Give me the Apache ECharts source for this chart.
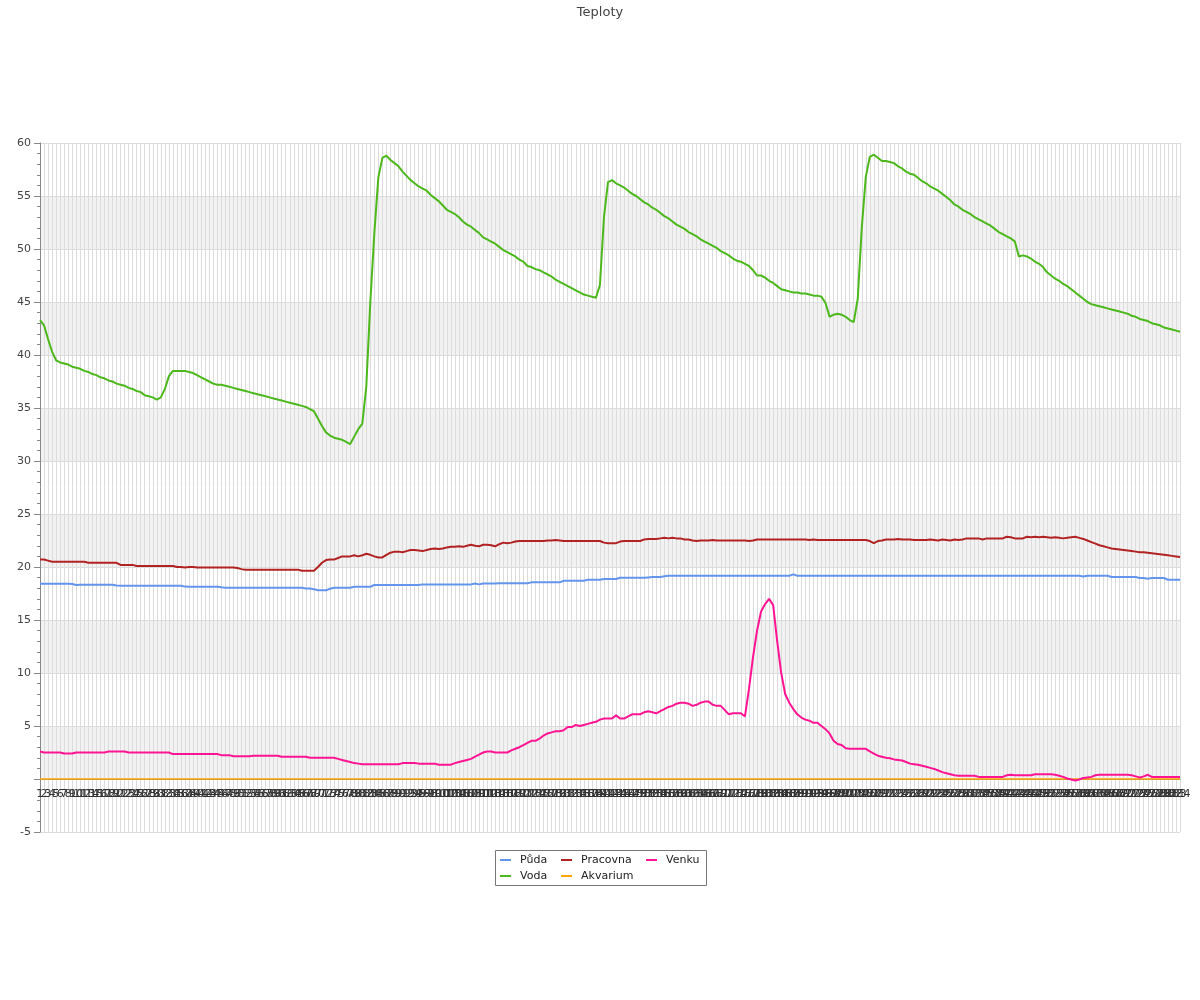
<!DOCTYPE html>
<html>
<head>
<meta charset="utf-8">
<script src="https://cdn.jsdelivr.net/npm/echarts@6/dist/echarts.min.js"></script>
<style>html,body{margin:0;padding:0;background:#fff}#chart{width:1200px;height:1000px}</style>
</head>
<body>
<div id="chart"></div>
<script>
// ---- DATA ----
const seriesNames = ['Půda', 'Voda', 'Pracovna', 'Akvarium', 'Venku'];

const puda = [
18.42,18.42,18.42,18.42,18.42,18.42,18.42,18.42,18.4,18.3,
18.33,18.33,18.33,18.33,18.33,18.33,18.33,18.33,18.33,18.25,
18.24,18.24,18.24,18.24,18.24,18.24,18.24,18.24,18.24,18.24,
18.24,18.24,18.24,18.24,18.24,18.24,18.15,18.14,18.14,18.14,
18.14,18.14,18.14,18.14,18.14,18.08,18.05,18.05,18.05,18.05,
18.05,18.05,18.05,18.05,18.05,18.05,18.05,18.05,18.05,18.05,
18.05,18.05,18.05,18.05,18.05,18.05,17.97,17.97,17.9,17.8,
17.8,17.8,17.95,18.05,18.05,18.05,18.05,18.05,18.14,18.14,
18.14,18.14,18.14,18.3,18.3,18.3,18.3,18.3,18.3,18.3,
18.3,18.3,18.3,18.3,18.3,18.36,18.36,18.36,18.36,18.36,
18.36,18.36,18.36,18.36,18.36,18.36,18.36,18.36,18.45,18.36,
18.45,18.45,18.45,18.45,18.46,18.46,18.46,18.46,18.46,18.46,
18.46,18.46,18.55,18.55,18.55,18.55,18.55,18.55,18.55,18.55,
18.7,18.7,18.7,18.7,18.7,18.7,18.8,18.8,18.8,18.8,
18.87,18.87,18.87,18.87,18.99,18.99,18.99,18.99,18.99,18.99,
18.99,19.02,19.05,19.05,19.05,19.12,19.18,19.18,19.18,19.18,
19.18,19.18,19.18,19.18,19.18,19.18,19.18,19.18,19.18,19.18,
19.18,19.18,19.18,19.18,19.18,19.18,19.18,19.18,19.18,19.18,
19.18,19.18,19.18,19.18,19.18,19.18,19.18,19.3,19.18,19.18,
19.18,19.18,19.18,19.18,19.18,19.18,19.18,19.18,19.18,19.18,
19.18,19.18,19.18,19.18,19.18,19.18,19.18,19.18,19.18,19.18,
19.18,19.18,19.18,19.18,19.18,19.18,19.18,19.18,19.18,19.18,
19.18,19.18,19.18,19.18,19.18,19.18,19.18,19.18,19.18,19.18,
19.18,19.18,19.18,19.18,19.18,19.18,19.18,19.18,19.18,19.18,
19.18,19.18,19.18,19.18,19.18,19.18,19.18,19.18,19.18,19.18,
19.18,19.18,19.18,19.18,19.18,19.18,19.18,19.18,19.18,19.1,
19.18,19.18,19.18,19.18,19.18,19.18,19.06,19.06,19.06,19.06,
19.06,19.06,19.06,18.96,18.96,18.9,18.96,18.96,18.96,18.96,
18.8,18.8,18.8,18.8
];

const voda = [
43.3,42.8,41.5,40.3,39.5,39.3,39.2,39.1,38.9,38.8,
38.7,38.5,38.4,38.2,38.1,37.9,37.8,37.6,37.5,37.3,
37.2,37.1,36.9,36.8,36.6,36.5,36.2,36.1,36.0,35.8,
36.0,36.8,38.0,38.5,38.5,38.5,38.5,38.4,38.3,38.1,
37.9,37.7,37.5,37.3,37.2,37.2,37.1,37.0,36.9,36.8,
36.7,36.6,36.5,36.4,36.3,36.2,36.1,36.0,35.9,35.8,
35.7,35.6,35.5,35.4,35.3,35.2,35.1,34.9,34.7,34.0,
33.3,32.7,32.4,32.2,32.1,32.0,31.8,31.6,32.3,33.0,
33.5,37.0,45.0,51.5,56.8,58.6,58.8,58.4,58.1,57.8,
57.3,56.9,56.5,56.2,55.9,55.7,55.5,55.1,54.8,54.5,
54.1,53.7,53.5,53.3,53.0,52.6,52.3,52.1,51.8,51.5,
51.1,50.9,50.7,50.5,50.2,49.9,49.7,49.5,49.3,49.0,
48.8,48.4,48.3,48.1,48.0,47.8,47.6,47.4,47.1,46.9,
46.7,46.5,46.3,46.1,45.9,45.7,45.6,45.5,45.4,46.6,
53.0,56.3,56.5,56.2,56.0,55.8,55.5,55.2,55.0,54.7,
54.4,54.2,53.9,53.7,53.4,53.1,52.9,52.6,52.3,52.1,
51.9,51.6,51.4,51.2,50.9,50.7,50.5,50.3,50.1,49.8,
49.6,49.4,49.1,48.9,48.8,48.6,48.4,48.0,47.5,47.5,
47.3,47.0,46.8,46.5,46.2,46.1,46.0,45.9,45.9,45.8,
45.8,45.7,45.6,45.6,45.5,44.9,43.6,43.8,43.9,43.8,
43.6,43.3,43.1,45.3,52.0,56.8,58.7,58.9,58.6,58.3,
58.3,58.2,58.1,57.8,57.6,57.3,57.1,57.0,56.7,56.4,
56.2,55.9,55.7,55.5,55.2,54.9,54.6,54.2,54.0,53.7,
53.5,53.3,53.0,52.8,52.6,52.4,52.2,51.9,51.6,51.4,
51.2,51.0,50.7,49.3,49.4,49.3,49.1,48.8,48.6,48.3,
47.8,47.5,47.2,47.0,46.7,46.5,46.2,45.9,45.6,45.3,
45.0,44.8,44.7,44.6,44.5,44.4,44.3,44.2,44.1,44.0,
43.9,43.7,43.6,43.4,43.3,43.2,43.0,42.9,42.8,42.6,
42.5,42.4,42.3,42.2
];

const pracovna = [
20.7,20.7,20.6,20.5,20.5,20.5,20.5,20.5,20.5,20.5,
20.5,20.5,20.4,20.4,20.4,20.4,20.4,20.4,20.4,20.4,
20.2,20.2,20.2,20.2,20.1,20.1,20.1,20.1,20.1,20.1,
20.1,20.1,20.1,20.1,20.0,20.0,19.95,20.0,20.0,19.95,
19.95,19.95,19.95,19.95,19.95,19.95,19.95,19.95,19.95,19.9,
19.8,19.75,19.75,19.75,19.75,19.75,19.75,19.75,19.75,19.75,
19.75,19.75,19.75,19.75,19.75,19.65,19.65,19.65,19.65,20.0,
20.4,20.65,20.7,20.7,20.85,21.0,21.0,21.0,21.1,21.0,
21.1,21.25,21.15,21.0,20.9,20.9,21.15,21.35,21.45,21.45,
21.4,21.5,21.6,21.6,21.55,21.5,21.6,21.7,21.75,21.7,
21.75,21.85,21.9,21.9,21.95,21.9,22.0,22.1,22.0,21.95,
22.1,22.1,22.05,21.95,22.15,22.3,22.25,22.3,22.4,22.45,
22.45,22.45,22.45,22.45,22.45,22.45,22.5,22.5,22.55,22.5,
22.45,22.45,22.45,22.45,22.45,22.45,22.45,22.45,22.45,22.45,
22.3,22.25,22.25,22.25,22.4,22.45,22.45,22.45,22.45,22.45,
22.6,22.65,22.65,22.65,22.7,22.75,22.7,22.75,22.7,22.7,
22.6,22.6,22.5,22.45,22.5,22.5,22.5,22.55,22.5,22.5,
22.5,22.5,22.5,22.5,22.5,22.5,22.45,22.5,22.6,22.6,
22.6,22.6,22.6,22.6,22.6,22.6,22.6,22.6,22.6,22.6,
22.6,22.55,22.6,22.55,22.55,22.55,22.55,22.55,22.55,22.55,
22.55,22.55,22.55,22.55,22.55,22.55,22.45,22.25,22.45,22.5,
22.6,22.6,22.6,22.65,22.6,22.6,22.6,22.55,22.55,22.55,
22.55,22.6,22.55,22.5,22.6,22.55,22.5,22.6,22.55,22.6,
22.7,22.7,22.7,22.7,22.6,22.7,22.7,22.7,22.7,22.7,
22.85,22.8,22.7,22.7,22.7,22.85,22.8,22.85,22.8,22.85,
22.8,22.75,22.8,22.75,22.7,22.75,22.8,22.85,22.75,22.65,
22.5,22.35,22.2,22.05,21.95,21.85,21.75,21.7,21.65,21.6,
21.55,21.5,21.45,21.4,21.4,21.35,21.3,21.25,21.2,21.15,
21.1,21.05,21.0,20.95
];

const akvarium = [
0,0,0,0,0,0,0,0,0,0,0,0,0,0,0,0,0,0,0,0,
0,0,0,0,0,0,0,0,0,0,0,0,0,0,0,0,0,0,0,0,
0,0,0,0,0,0,0,0,0,0,0,0,0,0,0,0,0,0,0,0,
0,0,0,0,0,0,0,0,0,0,0,0,0,0,0,0,0,0,0,0,
0,0,0,0,0,0,0,0,0,0,0,0,0,0,0,0,0,0,0,0,
0,0,0,0,0,0,0,0,0,0,0,0,0,0,0,0,0,0,0,0,
0,0,0,0,0,0,0,0,0,0,0,0,0,0,0,0,0,0,0,0,
0,0,0,0,0,0,0,0,0,0,0,0,0,0,0,0,0,0,0,0,
0,0,0,0,0,0,0,0,0,0,0,0,0,0,0,0,0,0,0,0,
0,0,0,0,0,0,0,0,0,0,0,0,0,0,0,0,0,0,0,0,
0,0,0,0,0,0,0,0,0,0,0,0,0,0,0,0,0,0,0,0,
0,0,0,0,0,0,0,0,0,0,0,0,0,0,0,0,0,0,0,0,
0,0,0,0,0,0,0,0,0,0,0,0,0,0,0,0,0,0,0,0,
0,0,0,0,0,0,0,0,0,0,0,0,0,0,0,0,0,0,0,0,
0,0,0,0
];

const venku = [
2.6,2.5,2.5,2.5,2.5,2.5,2.4,2.4,2.4,2.5,
2.5,2.5,2.5,2.5,2.5,2.5,2.5,2.6,2.6,2.6,
2.6,2.6,2.5,2.5,2.5,2.5,2.5,2.5,2.5,2.5,
2.5,2.5,2.5,2.35,2.35,2.35,2.35,2.35,2.35,2.35,
2.35,2.35,2.35,2.35,2.35,2.25,2.25,2.25,2.15,2.15,
2.15,2.15,2.15,2.2,2.2,2.2,2.2,2.2,2.2,2.2,
2.1,2.1,2.1,2.1,2.1,2.1,2.1,2.0,2.0,2.0,
2.0,2.0,2.0,2.0,1.9,1.8,1.7,1.6,1.5,1.45,
1.4,1.4,1.4,1.4,1.4,1.4,1.4,1.4,1.4,1.4,
1.5,1.5,1.5,1.5,1.45,1.45,1.45,1.45,1.45,1.35,
1.35,1.35,1.35,1.5,1.6,1.7,1.8,1.9,2.1,2.3,
2.5,2.6,2.6,2.5,2.5,2.5,2.5,2.7,2.85,3.0,
3.2,3.4,3.6,3.6,3.8,4.1,4.3,4.4,4.5,4.5,
4.6,4.9,4.9,5.1,5.0,5.1,5.2,5.3,5.4,5.6,
5.7,5.7,5.7,6.0,5.7,5.7,5.9,6.1,6.1,6.1,
6.3,6.4,6.3,6.2,6.4,6.6,6.8,6.9,7.1,7.2,
7.2,7.1,6.9,7.0,7.2,7.3,7.3,7.0,6.9,6.9,
6.5,6.1,6.2,6.2,6.2,5.9,8.5,11.5,14.0,15.8,
16.5,17.0,16.4,13.0,10.0,8.0,7.2,6.6,6.1,5.8,
5.6,5.5,5.3,5.3,5.0,4.7,4.3,3.6,3.3,3.2,
2.9,2.85,2.85,2.85,2.85,2.85,2.6,2.4,2.2,2.1,
2.0,1.95,1.85,1.8,1.75,1.6,1.45,1.4,1.35,1.25,
1.15,1.05,0.95,0.8,0.65,0.55,0.45,0.35,0.3,0.3,
0.3,0.3,0.3,0.2,0.2,0.2,0.2,0.2,0.2,0.2,
0.35,0.4,0.35,0.35,0.35,0.35,0.35,0.45,0.45,0.45,
0.45,0.45,0.4,0.3,0.2,0.05,-0.05,-0.15,-0.05,0.1,
0.15,0.2,0.35,0.4,0.4,0.4,0.4,0.4,0.4,0.4,
0.4,0.35,0.25,0.15,0.25,0.4,0.2,0.2,0.2,0.2,
0.2,0.2,0.2,0.2
];

// category labels 1..N
const categories = voda.map((_, i) => String(i + 1));

const yTicks = { min: -5, max: 60, step: 5 };

// ---- STYLE ----
const colors = {
  'Půda': '#6495ED',
  'Voda': '#4CB81C',
  'Pracovna': '#B22222',
  'Akvarium': '#FFA500',
  'Venku': '#FF1493'
};
const lineWidths = { 'Půda': 2, 'Voda': 2, 'Pracovna': 2, 'Akvarium': 1.5, 'Venku': 2 };
const FONT = 'DejaVu Sans';
const seriesData = { 'Půda': puda, 'Voda': voda, 'Pracovna': pracovna, 'Akvarium': akvarium, 'Venku': venku };

const chart = echarts.init(document.getElementById('chart'), null, { renderer: 'canvas' });

function legendCol(names, left) {
  return {
    orient: 'vertical',
    left: left,
    top: 853,
    padding: 0,
    itemGap: 2,
    itemWidth: 11,
    itemHeight: 2,
    icon: 'rect',
    data: names,
    textStyle: { fontFamily: FONT, fontSize: 11, color: '#222', lineHeight: 14, padding: [0, 0, 0, 4] }
  };
}

const option = {
  animation: false,
  backgroundColor: '#fff',
  title: {
    text: 'Teploty',
    left: 'center',
    top: 1,
    textStyle: { fontFamily: FONT, fontSize: 13, fontWeight: 'normal', color: '#444' }
  },
  legend: [
    legendCol(['Půda', 'Voda'], 500),
    legendCol(['Pracovna', 'Akvarium'], 561),
    legendCol(['Venku'], 646)
  ],
  graphic: [{
    type: 'rect',
    shape: { x: 495.5, y: 850.5, width: 211, height: 35 },
    style: { fill: 'none', stroke: '#777', lineWidth: 1 },
    silent: true
  }],
  grid: { left: 40, right: 20, top: 143, bottom: 168, containLabel: false },
  xAxis: {
    type: 'category',
    data: categories,
    boundaryGap: false,
    axisLine: { show: true, onZero: true, lineStyle: { color: '#888', width: 1 } },
    axisTick: { show: false },
    axisLabel: { interval: 0, hideOverlap: false, fontFamily: FONT, fontSize: 11, color: '#333', margin: -43 },
    splitLine: { show: true, interval: 0, lineStyle: { color: '#dcdcdc', width: 1 } }
  },
  yAxis: {
    type: 'value',
    min: yTicks.min,
    max: yTicks.max,
    interval: yTicks.step,
    axisLine: { show: true, lineStyle: { color: '#888' } },
    axisTick: { show: true, length: 6, lineStyle: { color: '#888' } },
    minorTick: { show: true, splitNumber: 5, length: 3, lineStyle: { color: '#888' } },
    axisLabel: {
      fontFamily: FONT, fontSize: 11, color: '#444', margin: 9,
      formatter: v => (v === 0 ? '' : String(v))
    },
    splitLine: { show: true, lineStyle: { color: '#dcdcdc', width: 1 } },
    splitArea: { show: true, areaStyle: { color: ['rgba(255,255,255,0)', '#f2f2f2'] } }
  },
  series: seriesNames.map(name => ({
    name: name,
    type: 'line',
    data: seriesData[name],
    symbol: 'none',
    smooth: false,
    lineStyle: { color: colors[name], width: lineWidths[name] },
    itemStyle: { color: colors[name] }
  }))
};

chart.setOption(option);
</script>
</body>
</html>
